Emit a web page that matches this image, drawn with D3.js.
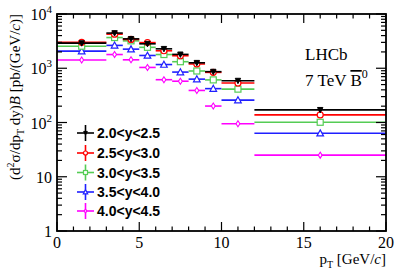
<!DOCTYPE html>
<html>
<head>
<meta charset="utf-8">
<script src="https://cdn.jsdelivr.net/npm/d3@7"></script>
<style>
  body { margin: 0; background: #fff; }
  svg { display: block; }
  .serif { font-family: "Liberation Serif", "Times New Roman", serif; }
  .legend text { font-family: "Liberation Sans", Arial, sans-serif; font-weight: bold; font-size: 14px; }
</style>
</head>
<body>
<div class="js-chart"></div>
<script>
// pT bin edges [GeV/c]
const binLow  = [0, 3, 4, 5, 6, 7, 8, 9, 10, 12];
const binHigh = [3, 4, 5, 6, 7, 8, 9, 10, 12, 20];
const binMid  = [1.5, 3.5, 4.5, 5.5, 6.5, 7.5, 8.5, 9.5, 11, 16];

// cross-section per rapidity bin, pb/(GeV/c)
const y20to25 = [2900, 4450, 3480, 2820, 2280, 1800, 1260, 865, 590, 171];
const y25to30 = [3000, 4250, 3400, 2970, 2100, 1700, 1200, 840, 535, 138];
const y30to35 = [2550, 3680, 3200, 2430, 1790, 1320, 890, 610, 412, 101];
const y35to40 = [2070, 2640, 2250, 1720, 1170, 850, 630, 421, 259, 63.5];
const y40to45 = [1420, 1790, 1430, 1035, 615, 577, 390, 201, 95, 25];

const seriesNames = ['2.0<y<2.5', '2.5<y<3.0', '3.0<y<3.5', '3.5<y<4.0', '4.0<y<4.5'];
const seriesColors = ['#000000', '#ff0000', '#55cc55', '#1f1fff', '#ff00ff'];
const seriesMarkers = ['triDownFull', 'circle', 'square', 'triUp', 'diamond'];
const seriesValues = [y20to25, y25to30, y30to35, y35to40, y40to45];

const xTicks = [0, 5, 10, 15, 20];
const yDecades = [1, 10, 100, 1000, 10000];

const W = 407, H = 276;
const frame = { left: 57, right: 386, top: 14, bottom: 231 };

const x = d3.scaleLinear().domain([0, 20]).range([frame.left, frame.right]);
const y = d3.scaleLog().domain([1, 1e4]).range([frame.bottom, frame.top]);

const svg = d3.select('.js-chart').append('svg')
    .attr('width', W)
    .attr('height', H);

/* Draw one marker of a given kind centred at (cx, cy) */
function drawMarker(g, kind, cx, cy, color, s) {
    if (kind === 'circle') {
        g.append('circle').attr('cx', cx).attr('cy', cy).attr('r', s * 0.5)
            .attr('fill', '#fff').attr('stroke', color).attr('stroke-width', 1.2);
    } else if (kind === 'square') {
        g.append('rect').attr('x', cx - s / 2).attr('y', cy - s / 2)
            .attr('width', s).attr('height', s)
            .attr('fill', '#fff').attr('stroke', color).attr('stroke-width', 1.2);
    } else if (kind === 'triUp') {
        g.append('path')
            .attr('d', `M${cx},${cy - s * 0.55}L${cx + s * 0.55},${cy + s * 0.45}L${cx - s * 0.55},${cy + s * 0.45}Z`)
            .attr('fill', '#fff').attr('stroke', color).attr('stroke-width', 1.2);
    } else if (kind === 'triDownFull') {
        g.append('path')
            .attr('d', `M${cx},${cy + s * 0.5}L${cx + s * 0.45},${cy - s * 0.4}L${cx - s * 0.45},${cy - s * 0.4}Z`)
            .attr('fill', color).attr('stroke', color).attr('stroke-width', 1);
    } else if (kind === 'diamond') {
        g.append('path')
            .attr('d', `M${cx},${cy - s * 0.5}L${cx + s * 0.32},${cy}L${cx},${cy + s * 0.5}L${cx - s * 0.32},${cy}Z`)
            .attr('fill', '#fff').attr('stroke', color).attr('stroke-width', 1.1);
    }
}

// Data: horizontal bars over the pT bin plus a marker at the bin centre.
// Draw the lowest rapidity last so it stays on top, like in the original.
const plot = svg.append('g');
for (let s = seriesValues.length - 1; s >= 0; s--) {
    const g = plot.append('g');
    const vals = seriesValues[s];
    g.selectAll('line.bin')
        .data(vals)
        .enter()
        .append('line')
        .attr('class', 'bin')
        .attr('x1', (d, i) => x(binLow[i]))
        .attr('x2', (d, i) => x(binHigh[i]))
        .attr('y1', (d) => y(d))
        .attr('y2', (d) => y(d))
        .attr('stroke', seriesColors[s])
        .attr('stroke-width', 1.6);
    vals.forEach((d, i) => drawMarker(g, seriesMarkers[s], x(binMid[i]), y(d), seriesColors[s], 6));
}

// Frame
svg.append('rect')
    .attr('x', frame.left).attr('y', frame.top)
    .attr('width', frame.right - frame.left)
    .attr('height', frame.bottom - frame.top)
    .attr('fill', 'none').attr('stroke', '#000').attr('stroke-width', 1.8);

// Ticks, ROOT style: inside the frame on all four sides
const ticks = svg.append('g').attr('stroke', '#000').attr('stroke-width', 1.2);
const xMinor = d3.range(0, 21);
xMinor.forEach((t) => {
    const len = xTicks.includes(t) ? 9 : 4.5;
    ticks.append('line').attr('x1', x(t)).attr('x2', x(t))
        .attr('y1', frame.bottom).attr('y2', frame.bottom - len);
    ticks.append('line').attr('x1', x(t)).attr('x2', x(t))
        .attr('y1', frame.top).attr('y2', frame.top + len);
});
yDecades.forEach((dec, k) => {
    const subs = k < yDecades.length - 1 ? d3.range(1, 10) : [1];
    subs.forEach((m) => {
        const v = dec * m;
        const len = m === 1 ? 10 : 5;
        ticks.append('line').attr('x1', frame.left).attr('x2', frame.left + len)
            .attr('y1', y(v)).attr('y2', y(v));
        ticks.append('line').attr('x1', frame.right).attr('x2', frame.right - len)
            .attr('y1', y(v)).attr('y2', y(v));
    });
});

// X tick labels
svg.append('g').attr('class', 'serif')
    .selectAll('text')
    .data(xTicks)
    .enter()
    .append('text')
    .attr('x', (d) => x(d))
    .attr('y', 248)
    .attr('text-anchor', 'middle')
    .attr('font-size', 16)
    .text((d) => d);

// Y tick labels: 1, 10, 10^2 ...
const yLab = svg.append('g').attr('class', 'serif').attr('font-size', 16);
yDecades.forEach((dec, k) => {
    const t = yLab.append('text')
        .attr('x', frame.left - 5)
        .attr('y', y(dec) + 6)
        .attr('text-anchor', 'end');
    if (k < 2) {
        t.text(dec);
    } else {
        t.append('tspan').text('10');
        t.append('tspan').attr('dy', -7).attr('font-size', 11).text(k);
    }
});

// Axis titles
const xt = svg.append('text').attr('class', 'serif')
    .attr('x', frame.right).attr('y', 264)
    .attr('text-anchor', 'end').attr('font-size', 15);
xt.append('tspan').text('p');
xt.append('tspan').attr('dy', 4).attr('font-size', 10).text('T');
xt.append('tspan').attr('dy', -4).text(' [GeV/');
xt.append('tspan').attr('font-style', 'italic').text('c');
xt.append('tspan').text(']');

const yt = svg.append('text').attr('class', 'serif')
    .attr('transform', `translate(20,${frame.top})rotate(-90)`)
    .attr('text-anchor', 'end').attr('font-size', 15);
yt.append('tspan').text('(d');
yt.append('tspan').attr('dy', -6).attr('font-size', 10).text('2');
yt.append('tspan').attr('dy', 6).text('σ/dp');
yt.append('tspan').attr('dy', 4).attr('font-size', 10).text('T');
yt.append('tspan').attr('dy', -4).text(' dy)');
yt.append('tspan').attr('font-style', 'italic').text('B');
yt.append('tspan').text(' [pb/(GeV/');
yt.append('tspan').attr('font-style', 'italic').text('c');
yt.append('tspan').text(')]');

// LHCb label
const lab = svg.append('g').attr('class', 'serif').attr('font-size', 17);
lab.append('text').attr('x', 305).attr('y', 60).text('LHCb');
const lab2 = lab.append('text').attr('x', 305).attr('y', 86);
lab2.append('tspan').text('7 TeV ');
lab2.append('tspan').attr('text-decoration', 'overline').text('B');
lab2.append('tspan').attr('dy', -8).attr('font-size', 12).text('0');

// Legend
const legendY = [133, 153, 172.5, 192, 211];
const legend = svg.append('g').attr('class', 'legend');
seriesNames.forEach((name, i) => {
    const g = legend.append('g');
    const cy = legendY[i];
    g.append('line').attr('x1', 77).attr('x2', 94).attr('y1', cy).attr('y2', cy)
        .attr('stroke', seriesColors[i]).attr('stroke-width', 1.6);
    g.append('line').attr('x1', 85.5).attr('x2', 85.5).attr('y1', cy - 8).attr('y2', cy + 8)
        .attr('stroke', seriesColors[i]).attr('stroke-width', 1.6);
    drawMarker(g, seriesMarkers[i], 85.5, cy, seriesColors[i], 4);
    g.append('text').attr('x', 97).attr('y', cy + 5).text(name);
});
</script>
</body>
</html>
